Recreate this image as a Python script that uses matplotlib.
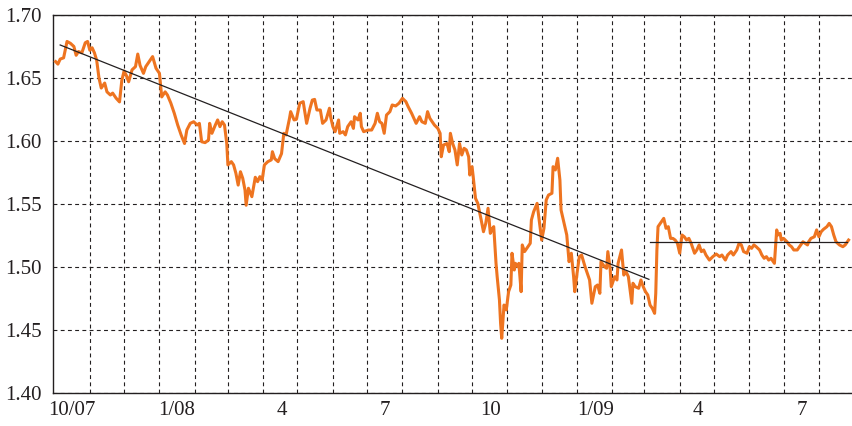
import numpy as np
import matplotlib
matplotlib.use("Agg")
import matplotlib.pyplot as plt
import matplotlib.dates as mdates

plt.rcParams['font.family'] = ['Liberation Serif', 'DejaVu Serif']

# exchange rate; days counted from 1 Oct 2007
start = np.datetime64('2007-10-01')

day_offset = [
    1, 3, 5, 8, 11, 14, 17, 19, 21, 24, 27, 29, 31, 33, 35, 37, 39, 41, 44, 46,
    49, 51, 54, 57, 59, 61, 63, 65, 68, 71, 73, 75, 78, 80, 83, 86, 89, 92, 94, 97,
    99, 102, 105, 108, 111, 114,
    116, 119, 122, 125, 127, 129, 132, 135, 136, 138, 141, 143, 145, 147, 149, 151, 152, 155, 157, 159,
    161, 163, 165, 167, 168, 170, 173, 176, 178, 180, 182, 184, 187, 190, 191, 193, 196, 199, 201, 203,
    206, 207, 210, 212, 215, 218, 221, 224, 226, 228, 230,
    233, 235, 238, 241, 242, 244, 246, 249, 250, 253, 255, 257, 260, 262, 263, 266, 268, 269, 271, 275,
    278, 281, 283, 285, 287, 289, 291, 294, 296, 299, 302, 305, 308, 310, 313, 315, 317, 320, 322, 325,
    327, 329, 331, 333, 336, 338, 339, 341,
    344, 346, 347, 349, 351, 353, 355, 357, 359, 361, 363, 364, 366, 367, 369, 371, 374, 376, 378, 380,
    382, 384, 385, 387, 388, 390, 391, 392, 394, 396, 398, 400, 401, 403, 404, 406, 407, 409, 410, 412,
    415, 417, 418, 420, 423, 425, 427, 429, 431, 433, 436, 437, 439, 441, 443, 444, 446, 449, 451, 453,
    455, 456,
    458, 460, 462, 465, 467, 469, 471, 474, 476, 478, 479, 482, 484, 485, 487, 488, 491, 493, 494, 497,
    499, 501, 503, 506, 507, 509, 512, 514, 516, 518, 520, 522, 524, 526, 527, 528, 529, 531, 534, 536,
    538, 540, 542, 544, 546, 548, 550, 552, 554, 556, 558, 561, 563, 565, 567, 569, 571,
    574, 577, 580, 583, 585, 588, 590, 593, 595, 598, 600, 602, 604, 607, 609, 611, 613, 615, 618, 620,
    622, 624, 626, 628, 630, 631, 633, 634, 636, 637, 639, 642, 644, 646, 648, 651, 653, 656, 658, 660,
    661, 663, 666, 668, 670, 672, 674, 677, 679, 681, 683, 685, 688, 691, 693, 696,
]

rate = [
    1.663, 1.661, 1.665, 1.666, 1.679, 1.6775, 1.675, 1.668, 1.671, 1.670, 1.678, 1.679, 1.672, 1.674, 1.670, 1.664, 1.650, 1.642, 1.646, 1.639,
    1.6365, 1.638, 1.634, 1.631, 1.648, 1.6555, 1.652, 1.647, 1.6565, 1.659, 1.669, 1.660, 1.6537, 1.659, 1.663, 1.667, 1.6577, 1.6537, 1.635, 1.639,
    1.6365, 1.630, 1.622, 1.6127, 1.6048, 1.598,
    1.6087, 1.614, 1.6153, 1.6127, 1.614, 1.5994, 1.5987, 1.6008, 1.614, 1.6061, 1.6127, 1.6167, 1.6114, 1.6153, 1.6127, 1.598, 1.581, 1.5836, 1.581, 1.5744,
    1.565, 1.5756, 1.5704, 1.561, 1.549, 1.5625, 1.5558, 1.5712, 1.5677, 1.5717, 1.569, 1.581, 1.5836, 1.585, 1.5915, 1.586, 1.5836, 1.590, 1.6061, 1.6048,
    1.618, 1.6233, 1.6167, 1.6172, 1.630, 1.6312, 1.614, 1.626, 1.6325, 1.633, 1.6246,
    1.6246, 1.614, 1.6167, 1.626, 1.6193, 1.6114, 1.6074, 1.6167, 1.6061, 1.6074, 1.6048, 1.6114, 1.6153, 1.610, 1.6193, 1.6167, 1.622, 1.6114, 1.6074, 1.6087,
    1.6087, 1.614, 1.622, 1.6153, 1.614, 1.6061, 1.6206, 1.6233, 1.6286, 1.6278, 1.630, 1.6339, 1.6312, 1.6272, 1.622, 1.618, 1.614, 1.6193, 1.6153, 1.614,
    1.6233, 1.618, 1.6153, 1.6127, 1.610, 1.6061, 1.5875, 1.5968,
    1.598, 1.5915, 1.6061, 1.598, 1.5929, 1.581, 1.598, 1.5889, 1.5942, 1.5929, 1.5875, 1.573, 1.5796, 1.5717, 1.5545, 1.5505, 1.5373, 1.528, 1.5346, 1.5466,
    1.5267, 1.5307, 1.532, 1.5029, 1.4923, 1.4738, 1.4553, 1.4434, 1.4698, 1.4659, 1.4804, 1.4857, 1.5109, 1.4976, 1.5029, 1.5003, 1.5029, 1.4804, 1.5175, 1.5122,
    1.5161, 1.5188, 1.5373, 1.5439, 1.5505, 1.5359, 1.5214, 1.5307, 1.5532, 1.5571, 1.5585, 1.5796, 1.577, 1.5863, 1.569, 1.5452, 1.5373, 1.5254, 1.5042, 1.5109,
    1.4923, 1.4804,
    1.495, 1.5082, 1.5095, 1.5003, 1.495, 1.4897, 1.4712, 1.4844, 1.4857, 1.4791, 1.5042, 1.5003, 1.499, 1.5122, 1.499, 1.4844, 1.4923, 1.4897, 1.5029, 1.5135,
    1.4936, 1.4962, 1.4923, 1.4712, 1.4871, 1.4844, 1.4831, 1.4897, 1.4844, 1.4804, 1.4778, 1.4698, 1.4672, 1.4632, 1.4791, 1.5135, 1.532, 1.5346, 1.5386, 1.5307,
    1.532, 1.5227, 1.5227, 1.5214, 1.5188, 1.5109, 1.5254, 1.524, 1.5214, 1.5227, 1.5188, 1.5109, 1.5135, 1.5175, 1.5122, 1.5135, 1.5095,
    1.5055, 1.5082, 1.5103, 1.5082, 1.5095, 1.5055, 1.5095, 1.5122, 1.5095, 1.5135, 1.5188, 1.5175, 1.5122, 1.5109, 1.5161, 1.5148, 1.5175, 1.5161, 1.5135, 1.5095,
    1.5069, 1.5082, 1.5055, 1.5069, 1.5042, 1.5029, 1.5294, 1.5254, 1.5267, 1.5214, 1.5227, 1.520, 1.5175, 1.5161, 1.5135, 1.5135, 1.5161, 1.520, 1.5188, 1.5175,
    1.520, 1.5227, 1.524, 1.5294, 1.524, 1.528, 1.5299, 1.532, 1.5346, 1.532, 1.5254, 1.520, 1.5175, 1.5161, 1.5175, 1.5214,
]

# trend lines: falling one up to early March 2009, flat one after
trend1_days = [5, 521]
trend1_vals = [1.6762, 1.4902]
trend2_days = [522, 695]
trend2_vals = [1.52, 1.52]

yticks = [1.40, 1.45, 1.50, 1.55, 1.60, 1.65, 1.70]
label_months = ['2007-10-16', '2008-01-16', '2008-04-17', '2008-07-17',
                '2008-10-17', '2009-01-17', '2009-04-17', '2009-07-17']
label_text = ['10/07', '1/08', '4', '7', '10', '1/09', '4', '7']

dates = start + np.array(day_offset).astype('timedelta64[D]')
t1 = start + np.array(trend1_days).astype('timedelta64[D]')
t2 = start + np.array(trend2_days).astype('timedelta64[D]')

fig = plt.figure(figsize=(8.52, 4.26), dpi=100)
ax = fig.add_axes([0.0622, 0.0775, 0.9378, 0.8873])

ax.plot(dates, rate, color='#EE7420', lw=2.2, zorder=3)
ax.plot(t1, trend1_vals, color='#231F20', lw=0.9, zorder=4)
ax.plot(t2, trend2_vals, color='#231F20', lw=0.9, zorder=4)

ax.set_ylim(1.40, 1.70)
ax.set_xlim(mdates.date2num(start) - 1.3, mdates.date2num(start) + 699)

ax.set_yticks(yticks)
ax.set_yticklabels(['%.2f' % v for v in yticks])

month_starts = np.arange(np.datetime64('2007-11'), np.datetime64('2009-09'),
                         dtype='datetime64[M]').astype('datetime64[D]')
ax.set_xticks(month_starts)
ax.set_xticklabels([])
ax.set_xticks(np.array(label_months, dtype='datetime64[D]'), minor=True)
ax.set_xticklabels(label_text, minor=True)

ax.grid(True, which='major', color='#231F20', ls=(0, (3.5, 3)), lw=0.8)
ax.set_axisbelow(True)

ax.tick_params(which='both', length=0, labelsize=15, colors='#231F20')
ax.tick_params(axis='x', which='minor', pad=6)
ax.tick_params(axis='y', pad=8)

ax.spines['right'].set_visible(False)
for s in ['left', 'top', 'bottom']:
    ax.spines[s].set_color('#231F20')
    ax.spines[s].set_linewidth(1.0)

fig.savefig('out.png', dpi=100)
